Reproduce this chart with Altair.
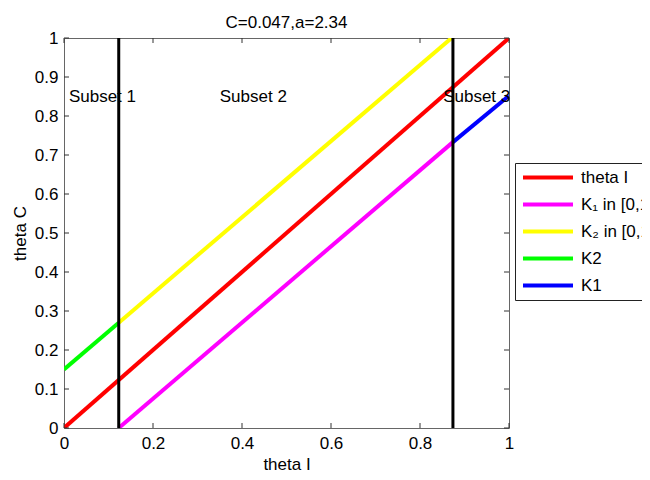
import altair as alt
import pandas as pd

# ---- data ----
series_names = ["theta I", "K\u2081 in [0,1]", "K\u2082 in [0,1]", "K2", "K1"]
series_colors = ["#ff0000", "#ff00ff", "#ffff00", "#00ff00", "#0000ff"]
seg_x0 = [0.0, 0.123, 0.123, 0.0, 0.874]
seg_y0 = [0.0, 0.0, 0.270, 0.150, 0.733]
seg_x1 = [1.0, 0.874, 0.871, 0.123, 1.0]
seg_y1 = [1.0, 0.733, 1.0, 0.270, 0.852]

vlines = [0.123, 0.874]

subset_labels = ["Subset 1", "Subset 2", "Subset 3"]
subset_x = [0.011, 0.35, 0.852]
subset_y = [0.85, 0.85, 0.85]

x_ticks = [0, 0.2, 0.4, 0.6, 0.8, 1]
y_ticks = [0, 0.1, 0.2, 0.3, 0.4, 0.5, 0.6, 0.7, 0.8, 0.9, 1]

title_text = "C=0.047,a=2.34"
x_title = "theta I"
y_title = "theta C"

FONT = "Liberation Sans"
FS = 17
W, H = 445, 390

rows = []
for i, name in enumerate(series_names):
    rows.append({"series": name, "order": i, "pt": 0, "x": seg_x0[i], "y": seg_y0[i]})
    rows.append({"series": name, "order": i, "pt": 1, "x": seg_x1[i], "y": seg_y1[i]})
lines_df = pd.DataFrame(rows)

xs = alt.Scale(domain=[0, 1], nice=False, zero=False)
ys = alt.Scale(domain=[0, 1], nice=False, zero=False)

x_axis = alt.Axis(values=x_ticks, format="~g", domain=False, ticks=False, grid=False,
                  labelFontSize=FS, labelPadding=7, labelColor="black", labelOverlap=False,
                  title=x_title, titleFontSize=FS, titleFontWeight="normal",
                  titlePadding=5, titleColor="black", labelFlush=False)
y_axis = alt.Axis(values=y_ticks, format="~g", domain=False, ticks=False, grid=False,
                  labelFontSize=FS, labelPadding=6, labelColor="black", labelOverlap=False,
                  title=y_title, titleFontSize=FS, titleFontWeight="normal",
                  titlePadding=5, titleColor="black", labelFlush=False)


def X(field):
    return alt.X(field, scale=xs, axis=x_axis, title=x_title)


def Y(field):
    return alt.Y(field, scale=ys, axis=y_axis, title=y_title)


lines = alt.Chart(lines_df).mark_line(strokeWidth=4, strokeCap="butt", clip=True).encode(
    x=X("x:Q"),
    y=Y("y:Q"),
    color=alt.Color("series:N", scale=alt.Scale(domain=series_names, range=series_colors),
                    sort=series_names,
                    legend=alt.Legend(title=None, orient="none", legendX=451, legendY=125,
                                      fillColor="white", strokeColor="#222",
                                      padding=6, symbolType="stroke", symbolSize=2500,
                                      symbolStrokeWidth=4, labelFontSize=FS, labelFont=FONT,
                                      labelOffset=6, rowPadding=9, clipHeight=17,
                                      labelColor="black")),
    detail="series:N",
    order="pt:Q",
)

vdf = pd.DataFrame({"v": vlines})
vrules = alt.Chart(vdf).mark_rule(color="black", strokeWidth=3).encode(x=X("v:Q"))

tdf = pd.DataFrame({"label": subset_labels, "x": subset_x, "y": subset_y})
texts = alt.Chart(tdf).mark_text(align="left", baseline="middle", fontSize=FS, font=FONT,
                                 color="black").encode(
    x=X("x:Q"), y=Y("y:Q"), text="label:N"
)

xt = pd.DataFrame({"t": x_ticks})
yt = pd.DataFrame({"t": y_ticks})
tick_col = "#333333"
xt_bot = alt.Chart(xt).mark_rule(color=tick_col, strokeWidth=1).encode(
    x=X("t:Q"), y=alt.value(H), y2=alt.value(H - 5))
xt_top = alt.Chart(xt).mark_rule(color=tick_col, strokeWidth=1).encode(
    x=X("t:Q"), y=alt.value(0), y2=alt.value(5))
yt_left = alt.Chart(yt).mark_rule(color=tick_col, strokeWidth=1).encode(
    y=Y("t:Q"), x=alt.value(0), x2=alt.value(5))
yt_right = alt.Chart(yt).mark_rule(color=tick_col, strokeWidth=1).encode(
    y=Y("t:Q"), x=alt.value(W), x2=alt.value(W - 5))

chart = alt.layer(lines, vrules, texts, xt_bot, xt_top, yt_left, yt_right).properties(
    width=W, height=H,
    title=alt.TitleParams(title_text, fontSize=FS, fontWeight="normal", font=FONT,
                          color="black", offset=-3, anchor="middle"),
    autosize=alt.AutoSizeParams(type="none"),
    padding={"left": 56, "top": 30, "right": 133, "bottom": 44},
).configure(font=FONT, background="white").configure_view(
    stroke="#666666", strokeWidth=1
).configure_axis(labelFont=FONT, titleFont=FONT)

chart.save("out.html", embed_options={"renderer": "svg", "actions": False})
